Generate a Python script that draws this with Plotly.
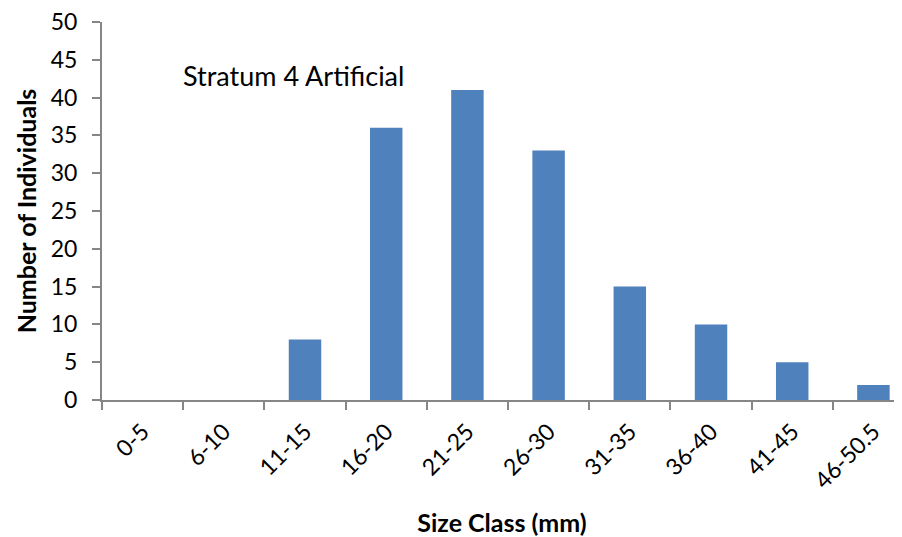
import plotly.graph_objects as go

# Size class histogram, Stratum 4 Artificial
size_classes = ["0-5", "6-10", "11-15", "16-20", "21-25",
                "26-30", "31-35", "36-40", "41-45", "46-50.5"]
counts = [0, 0, 8, 36, 41, 33, 15, 10, 5, 2]
y_ticks = list(range(0, 55, 5))

AXIS_GREY = "#868686"
BAR_BLUE = "#4F81BD"
FONT = "Lato"

fig = go.Figure()
fig.add_trace(go.Bar(
    x=list(range(len(size_classes))),
    y=counts,
    marker=dict(color=BAR_BLUE, line=dict(width=0)),
    hoverinfo="x+y",
))

fig.add_annotation(
    text="Stratum 4 Artificial",
    xref="paper", yref="paper",
    x=0.099, y=0.809, xanchor="left", yanchor="bottom",
    showarrow=False,
    font=dict(family=FONT, size=27, color="black"),
)

# page body has an 8px margin, so margins are trimmed by 8px to land the plot
# area where the reference has it
fig.update_layout(
    width=902, height=537,
    margin=dict(l=94, r=8, t=14, b=145),
    plot_bgcolor="white", paper_bgcolor="white",
    font=dict(family=FONT, size=23, color="black"),
    bargap=0.6,
    showlegend=False,
)

fig.update_xaxes(
    tickmode="array",
    tickvals=list(range(len(size_classes))),
    ticktext=size_classes,
    tickangle=-45,
    range=[-0.5, 9.352],
    automargin=False,
    ticklabeloverflow="allow",
    ticklabelstandoff=7,
    showgrid=False, zeroline=False,
    showline=True, linecolor=AXIS_GREY, linewidth=2,
    ticks="",
    title=dict(text="<b>Size Class (mm)</b>", font=dict(size=25), standoff=22),
)

# category boundary ticks drawn as minor ticks
fig.update_xaxes(
    minor=dict(tickmode="array", tickvals=[i - 0.5 for i in range(len(size_classes) + 1)],
               ticks="outside", ticklen=8, tickcolor=AXIS_GREY, tickwidth=2),
)

fig.update_yaxes(
    range=[0, 50],
    tickmode="array", tickvals=y_ticks,
    automargin=False,
    ticklabeloverflow="allow",
    ticklabelstandoff=10,
    showgrid=False, zeroline=False,
    showline=True, linecolor=AXIS_GREY, linewidth=2,
    ticks="outside", ticklen=8, tickcolor=AXIS_GREY, tickwidth=2,
    title=dict(text="<b>Number of Individuals</b>", font=dict(size=25), standoff=7),
)

fig.write_html("out.html")
